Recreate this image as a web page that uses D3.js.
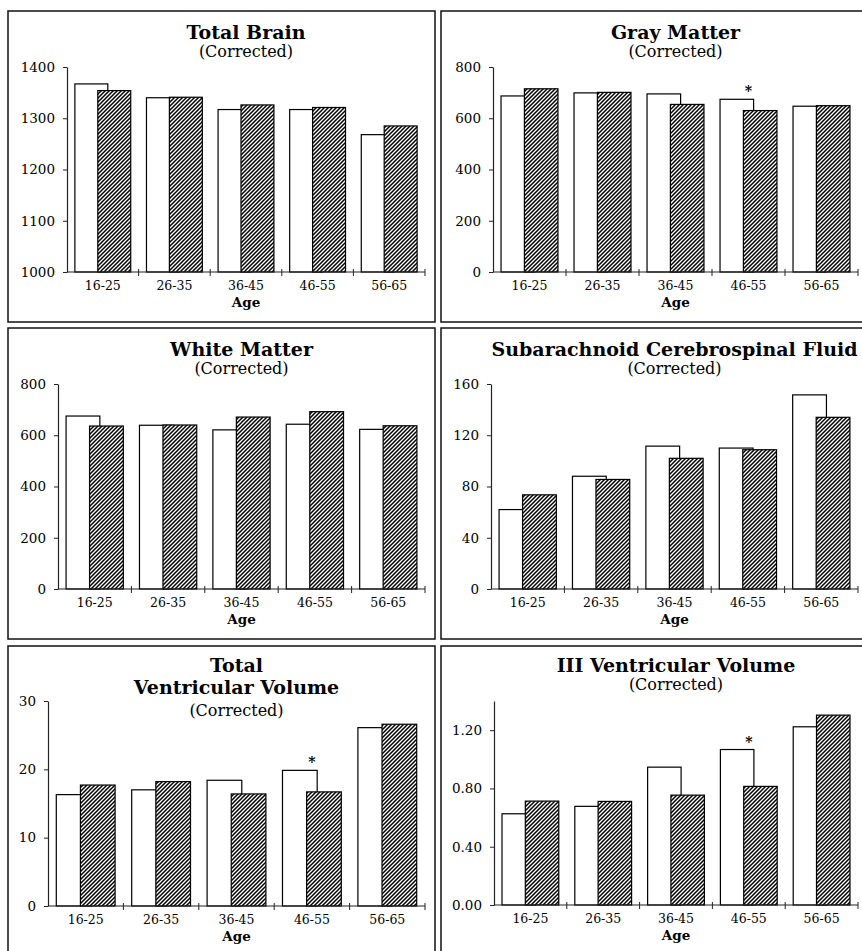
<!DOCTYPE html>
<html>
<head>
<meta charset="utf-8">
<script src="https://cdn.jsdelivr.net/npm/d3@7"></script>
<style>
  html, body { margin: 0; padding: 0; background: #fff; }
  svg { display: block; }
  text { font-family: "DejaVu Serif", serif; fill: #000; }
</style>
</head>
<body>
<script>
// ---------- DATA ----------
const ageGroups = ["16-25", "26-35", "36-45", "46-55", "56-65"];

const totalBrainOpen    = [1367, 1340, 1317, 1317, 1268];
const totalBrainHatched = [1354, 1341, 1326, 1321, 1285];
const totalBrainTicks   = [1000, 1100, 1200, 1300, 1400];

const grayOpen    = [687, 699, 695, 674, 647];
const grayHatched = [715, 701, 654, 630, 649];
const grayTicks   = [0, 200, 400, 600, 800];
const graySig     = ["46-55"];

const whiteOpen    = [675, 639, 621, 643, 623];
const whiteHatched = [636, 640, 671, 692, 637];
const whiteTicks   = [0, 200, 400, 600, 800];

const csfOpen    = [62, 88, 111.5, 110, 151.5];
const csfHatched = [73.5, 85.5, 102, 108.7, 134];
const csfTicks   = [0, 40, 80, 120, 160];

const tvvOpen    = [16.3, 17.0, 18.4, 19.85, 26.1];
const tvvHatched = [17.7, 18.2, 16.4, 16.7, 26.6];
const tvvTicks   = [0, 10, 20, 30];
const tvvSig     = ["46-55"];

const v3Open    = [0.626, 0.677, 0.946, 1.067, 1.223];
const v3Hatched = [0.713, 0.711, 0.754, 0.814, 1.303];
const v3Ticks   = [0, 0.4, 0.8, 1.2];
const v3Sig     = ["46-55"];

// ---------- PANELS ----------
const panels = [
  { title: ["Total Brain"], sub: "(Corrected)", open: totalBrainOpen, hatched: totalBrainHatched,
    ticks: totalBrainTicks, domain: [1000, 1400], fmt: d3.format("d"), sig: [],
    frame: [8, 11, 435, 322], ax: 67, top: 67, bottom: 272, right: 425, titleY: 39, subGap: 18 },
  { title: ["Gray Matter"], sub: "(Corrected)", open: grayOpen, hatched: grayHatched,
    ticks: grayTicks, domain: [0, 800], fmt: d3.format("d"), sig: graySig,
    frame: [441, 11, 875, 322], ax: 493, top: 67, bottom: 272, right: 858, titleY: 39, subGap: 18 },
  { title: ["White Matter"], sub: "(Corrected)", open: whiteOpen, hatched: whiteHatched,
    ticks: whiteTicks, domain: [0, 800], fmt: d3.format("d"), sig: [],
    frame: [8, 328, 435, 639], ax: 58, top: 384, bottom: 589, right: 425, titleY: 356, subGap: 18 },
  { title: ["Subarachnoid Cerebrospinal Fluid"], sub: "(Corrected)", open: csfOpen, hatched: csfHatched,
    ticks: csfTicks, domain: [0, 160], fmt: d3.format("d"), sig: [],
    frame: [441, 328, 875, 639], ax: 491, top: 384, bottom: 589, right: 858, titleY: 356, subGap: 18 },
  { title: ["Total", "Ventricular Volume"], sub: "(Corrected)", open: tvvOpen, hatched: tvvHatched,
    ticks: tvvTicks, domain: [0, 30], fmt: d3.format("d"), sig: tvvSig,
    frame: [8, 646, 435, 975], ax: 48, top: 701, bottom: 906, right: 425, titleY: 672, subGap: 22 },
  { title: ["III Ventricular Volume"], sub: "(Corrected)", open: v3Open, hatched: v3Hatched,
    ticks: v3Ticks, domain: [0, 1.4], fmt: d3.format(".2f"), sig: v3Sig,
    frame: [441, 646, 875, 975], ax: 494, top: 701, bottom: 905, right: 858, titleY: 672, subGap: 18 }
];

const W = 862, H = 951;
const svg = d3.select("body").append("svg").attr("width", W).attr("height", H);

// hatch pattern
const defs = svg.append("defs");
const pat = defs.append("pattern").attr("id", "hatch")
  .attr("patternUnits", "userSpaceOnUse").attr("width", 4).attr("height", 4);
pat.append("rect").attr("width", 4).attr("height", 4).attr("fill", "#fff");
pat.append("path").attr("d", "M-1,1 L1,-1 M0,4 L4,0 M3,5 L5,3")
  .attr("stroke", "#000").attr("stroke-width", 1.5);

panels.forEach(p => {
  const g = svg.append("g");
  const [fx0, fy0, fx1, fy1] = p.frame;
  g.append("rect").attr("x", fx0).attr("y", fy0).attr("width", fx1 - fx0).attr("height", fy1 - fy0)
    .attr("fill", "none").attr("stroke", "#111").attr("stroke-width", 1.5);

  const y = d3.scaleLinear().domain(p.domain).range([p.bottom, p.top]);
  const x = d3.scaleBand().domain(ageGroups).range([p.ax, p.right]).paddingInner(0).paddingOuter(0);
  const bw = x.bandwidth();

  const cx = (p.ax + p.right) / 2;
  // titles
  p.title.forEach((t, i) => {
    g.append("text").attr("x", cx).attr("y", p.titleY + i * 22).attr("text-anchor", "middle")
      .attr("font-size", 19).attr("font-weight", "bold").text(t);
  });
  g.append("text").attr("x", cx).attr("y", p.titleY + (p.title.length - 1) * 22 + p.subGap)
    .attr("text-anchor", "middle").attr("font-size", 16).text(p.sub);

  // bars: open (white) then hatched on top
  const data = ageGroups.map((a, i) => ({ a, o: p.open[i], h: p.hatched[i] }));
  g.selectAll(".open").data(data).enter().append("rect")
    .attr("x", d => x(d.a) + 0.11 * bw).attr("width", 0.46 * bw)
    .attr("y", d => y(d.o)).attr("height", d => y(p.domain[0]) - y(d.o))
    .attr("fill", "#fff").attr("stroke", "#000").attr("stroke-width", 1.2);
  g.selectAll(".hat").data(data).enter().append("rect")
    .attr("x", d => x(d.a) + 0.43 * bw).attr("width", 0.46 * bw)
    .attr("y", d => y(d.h)).attr("height", d => y(p.domain[0]) - y(d.h))
    .attr("fill", "url(#hatch)").attr("stroke", "#000").attr("stroke-width", 1.2);

  // significance stars
  g.selectAll(".sig").data(data.filter(d => p.sig.includes(d.a))).enter().append("text")
    .attr("x", d => x(d.a) + 0.50 * bw).attr("y", d => y(d.o) - 3)
    .attr("text-anchor", "middle").attr("font-size", 14).attr("font-weight", "bold").text("*");

  // y axis
  const yAxis = d3.axisLeft(y).tickValues(p.ticks).tickFormat(p.fmt).tickSize(4).tickSizeOuter(0).tickPadding(8);
  const ya = g.append("g").attr("transform", `translate(${p.ax},0)`).call(yAxis);
  ya.select(".domain").attr("stroke", "#222").attr("stroke-width", 1.2);
  ya.selectAll(".tick line").attr("stroke", "#222");
  ya.selectAll("text").attr("font-size", 13.5).attr("font-family", "DejaVu Serif").attr("fill", "#000");

  // x axis line + boundary ticks
  g.append("line").attr("x1", p.ax).attr("x2", p.right).attr("y1", p.bottom).attr("y2", p.bottom)
    .attr("stroke", "#222").attr("stroke-width", 1.2);
  const bounds = ageGroups.slice(1).map(a => x(a)).concat([x.range()[1]]);
  g.selectAll(".bt").data(bounds).enter().append("line")
    .attr("x1", d => d).attr("x2", d => d).attr("y1", p.bottom - 3).attr("y2", p.bottom + 4)
    .attr("stroke", "#222").attr("stroke-width", 1);

  const xAxis = d3.axisBottom(x).tickSize(0).tickPadding(9);
  const xa = g.append("g").attr("transform", `translate(0,${p.bottom})`).call(xAxis);
  xa.select(".domain").remove();
  xa.selectAll("text").attr("font-size", 12.5).attr("font-family", "DejaVu Serif").attr("fill", "#000");

  g.append("text").attr("x", cx).attr("y", p.bottom + 35).attr("text-anchor", "middle")
    .attr("font-size", 13.5).attr("font-weight", "bold").text("Age");
});
</script>
</body>
</html>
